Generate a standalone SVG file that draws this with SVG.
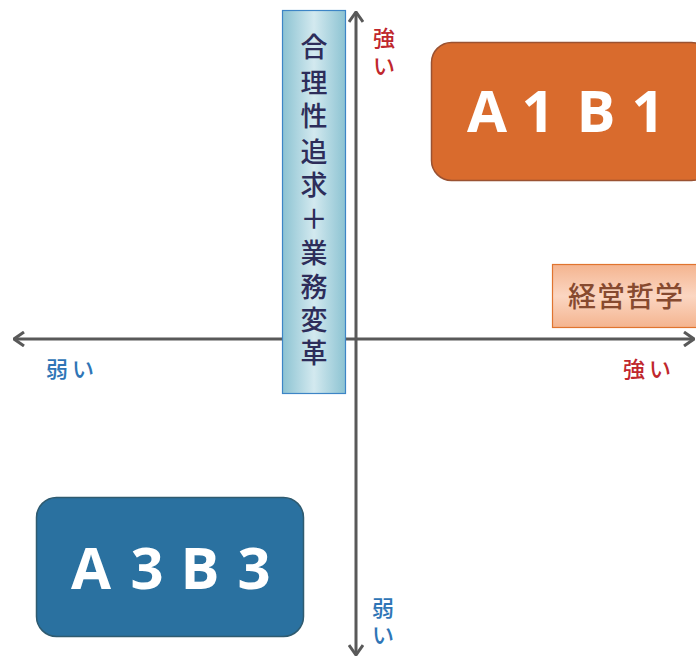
<svg xmlns="http://www.w3.org/2000/svg" width="696" height="657" viewBox="0 0 696 657">
<style>
.jp{font-family:"Noto Sans CJK JP","Noto Sans",sans-serif}
.lat{font-family:"Open Sans","Noto Sans",sans-serif;font-weight:bold;font-size:58px;fill:#ffffff;text-anchor:middle}
.axis{stroke:#595959;stroke-width:3;fill:none}
.red{fill:#c0272d;font-size:22px;font-weight:500}
.blue{fill:#2e75b6;font-size:22px;font-weight:500}
</style>
<defs>
<marker id="arr" viewBox="0 0 12 16" refX="11" refY="8" markerWidth="12" markerHeight="16" markerUnits="userSpaceOnUse" orient="auto-start-reverse">
<path d="M1,1 L11,8 L1,15" fill="none" stroke="#595959" stroke-width="3"/>
</marker>
<linearGradient id="gBlue" x1="0" y1="0" x2="1" y2="0">
<stop offset="0" stop-color="#8cc3d2"/>
<stop offset="0.5" stop-color="#d3e9ef"/>
<stop offset="1" stop-color="#8cc3d2"/>
</linearGradient>
<linearGradient id="gPeach" x1="0" y1="0" x2="0" y2="1">
<stop offset="0" stop-color="#f4b48f"/>
<stop offset="0.5" stop-color="#fbd6c2"/>
<stop offset="1" stop-color="#f4b48f"/>
</linearGradient>
</defs>
<g id="connectors">
<line class="axis" x1="14" y1="339" x2="694" y2="339" marker-start="url(#arr)" marker-end="url(#arr)"/>
<line class="axis" x1="356" y1="12" x2="356" y2="655" marker-start="url(#arr)" marker-end="url(#arr)"/>
</g>
<g id="a1b1">
<rect x="431.5" y="42.5" width="280" height="138" rx="20" fill="#d96b2d" stroke="#9a5232" stroke-width="1.5"/>
<text class="lat" y="132"><tspan x="487">A</tspan><tspan x="538">1</tspan><tspan x="596">B</tspan><tspan x="648">1</tspan></text>
</g>
<g id="a3b3">
<rect x="36.5" y="497.5" width="267" height="139" rx="20" fill="#2a71a0" stroke="#2f5b70" stroke-width="1.5"/>
<text class="lat" y="589"><tspan x="91">A</tspan><tspan x="147">3</tspan><tspan x="200">B</tspan><tspan x="254">3</tspan></text>
</g>
<g id="rational">
<rect x="282.5" y="10.5" width="63" height="383" fill="url(#gBlue)" stroke="#3d85c6" stroke-width="1.2"/>
<text class="jp" font-size="27" font-weight="500" fill="#2d2d5a" text-anchor="middle">
<tspan x="314" y="57">合</tspan><tspan x="314" y="93">理</tspan><tspan x="314" y="126">性</tspan><tspan x="314" y="162">追</tspan><tspan x="314" y="195">求</tspan><tspan x="314" y="229">＋</tspan><tspan x="314" y="263">業</tspan><tspan x="314" y="297">務</tspan><tspan x="314" y="330">変</tspan><tspan x="314" y="363">革</tspan>
</text>
</g>
<g id="philosophy">
<rect x="552.5" y="264.5" width="160" height="63" fill="url(#gPeach)" stroke="#e0742f" stroke-width="1.2"/>
<text class="jp" x="568" y="307" font-size="28" font-weight="500" fill="#874a2f" letter-spacing="1">経営哲学</text>
</g>
<g id="labels" class="jp">
<text class="red" x="384" y="46" text-anchor="middle">強</text>
<text class="red" x="384" y="74" text-anchor="middle">い</text>
<text class="blue" x="46" y="377" letter-spacing="4">弱い</text>
<text class="red" x="623" y="377" letter-spacing="4">強い</text>
<text class="blue" x="383" y="616" text-anchor="middle">弱</text>
<text class="blue" x="383" y="643" text-anchor="middle">い</text>
</g>
</svg>
